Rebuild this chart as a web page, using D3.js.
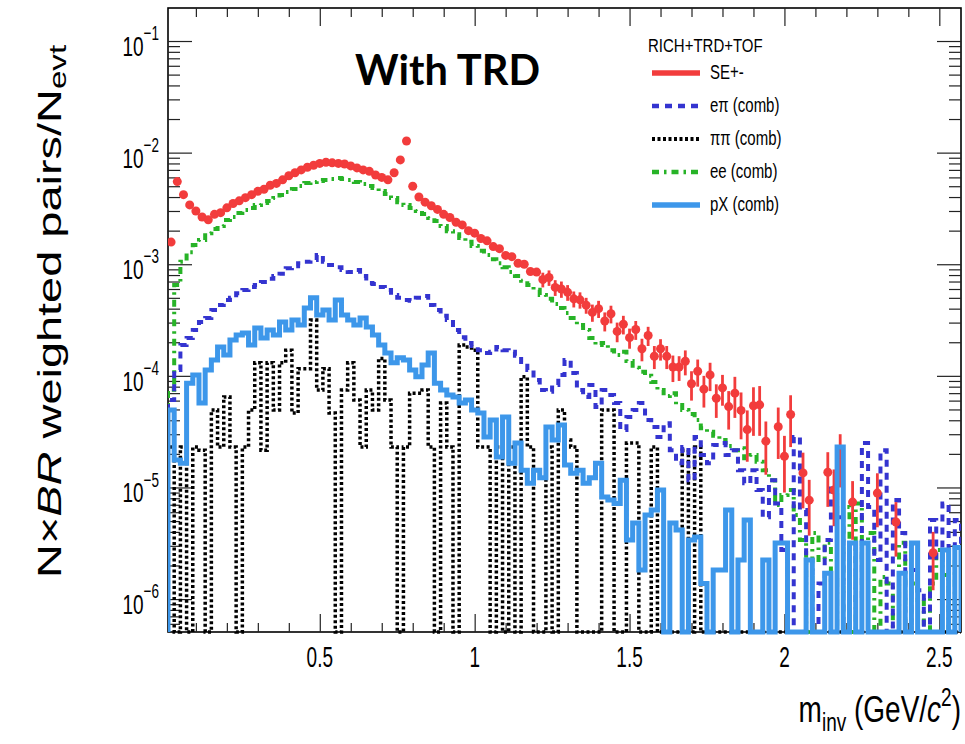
<!DOCTYPE html>
<html>
<head>
<meta charset="utf-8">
<script src="https://cdnjs.cloudflare.com/ajax/libs/d3/7.8.5/d3.min.js"></script>
<style>
  body { margin: 0; background: #fff; }
  svg { display: block; }
</style>
</head>
<body>
<div id="chart"></div>
<script>
// binning of all histograms (GeV/c^2)
var binLow = 0.01,
  binWidth = 0.02;

// SE+- (markers with errors)
var seValues = [
  1.58e-3, 5.5e-3, 4.2e-3, 3.4e-3, 3.0e-3, 2.65e-3, 2.5e-3, 2.8e-3, 2.9e-3, 3.2e-3,
  3.5e-3, 3.7e-3, 3.95e-3, 4.2e-3, 4.5e-3, 4.7e-3, 5.1e-3, 5.3e-3, 5.7e-3, 6.2e-3,
  6.6e-3, 7.0e-3, 7.4e-3, 7.7e-3, 8.0e-3, 8.2e-3, 8.1e-3, 8.0e-3, 7.9e-3, 7.6e-3,
  7.3e-3, 7.0e-3, 6.8e-3, 6.3e-3, 6.0e-3, 5.7e-3, 6.6e-3, 8.6e-3, 1.27e-2, 5.0e-3,
  4.0e-3, 3.6e-3, 3.34e-3, 3.1e-3, 2.8e-3, 2.62e-3, 2.38e-3, 2.25e-3, 2.0e-3, 1.9e-3,
  1.7e-3, 1.62e-3, 1.44e-3, 1.38e-3, 1.2e-3, 1.17e-3, 1.02e-3, 1.0e-3, 8.6e-4, 8.5e-4,
  7.3e-4, 7.6e-4, 6.2e-4, 6.0e-4, 5.6e-4, 4.9e-4, 4.8e-4, 4.3e-4, 3.7e-4, 4.0e-4,
  3.1e-4, 3.6e-4, 2.5e-4, 2.9e-4, 2.2e-4, 2.6e-4, 1.75e-4, 2.3e-4, 1.5e-4, 1.75e-4,
  1.5e-4, 1.2e-4, 1.2e-4, 1.35e-4, 8.5e-5, 1.1e-4, 7.6e-5, 1.02e-4, 6.3e-5, 7.8e-5,
  5.3e-5, 7.0e-5, 4.9e-5, 3.3e-5, 5.4e-5, 5.5e-5, 2.6e-5, 0, 3.5e-5, 1.9e-5,
  4.5e-5, 0, 1.35e-5, 7.7e-6, 0, 0, 1.37e-5, 9.5e-6, 2.0e-5, 0,
  7.4e-6, 0, 0, 0, 8.9e-6, 0, 0, 4.9e-6, 0, 0,
  0, 0, 0, 2.6e-6, 0, 0, 0, 0
];
var seErrors = [
  0, 0, 0, 0, 0, 0, 0, 0, 0, 0,
  0, 0, 0, 0, 0, 0, 0, 0, 0, 0,
  0, 0, 0, 0, 0, 0, 0, 0, 0, 0,
  0, 0, 0, 0, 0, 0, 0, 0, 0, 0,
  0, 0, 0, 0, 0, 0, 0, 0, 0, 0,
  0, 0, 0, 0, 0, 0, 0, 0, 0, 0,
  1.1e-4, 1.2e-4, 1.0e-4, 1.0e-4, 9e-5, 8e-5, 8e-5, 7e-5, 6.5e-5, 7e-5,
  6e-5, 6.5e-5, 5e-5, 5.5e-5, 4.5e-5, 5e-5, 4e-5, 4.5e-5, 3.5e-5, 3.8e-5,
  3.5e-5, 3.2e-5, 3e-5, 3.4e-5, 2.5e-5, 3e-5, 2.4e-5, 2.9e-5, 2.1e-5, 2.4e-5,
  2e-5, 2.8e-5, 2.2e-5, 1.6e-5, 2.5e-5, 2.6e-5, 1.3e-5, 0, 1.7e-5, 1e-5,
  2.2e-5, 0, 7e-6, 4e-6, 0, 0, 7e-6, 5e-6, 1e-5, 0,
  4e-6, 0, 0, 0, 4.5e-6, 0, 0, 2.5e-6, 0, 0,
  0, 0, 0, 1.4e-6, 0, 0, 0, 0
];

// e pi (comb)
var epValues = [
  6.07e-5, 1.13e-4, 1.89e-4, 2.18e-4, 2.57e-4, 3.03e-4, 3.3e-4, 3.89e-4, 4.31e-4, 4.78e-4,
  5.0e-4, 5.5e-4, 5.87e-4, 6.25e-4, 6.51e-4, 6.95e-4, 7.4e-4, 7.85e-4, 8.2e-4, 9.2e-4,
  9.6e-4, 1.02e-3, 1.05e-3, 1.09e-3, 1.21e-3, 1.05e-3, 9.84e-4, 9.4e-4, 8.87e-4, 8.5e-4,
  8.87e-4, 7.85e-4, 6.8e-4, 6.65e-4, 6.25e-4, 5.87e-4, 5.3e-4, 5.0e-4, 4.78e-4, 4.7e-4,
  5.0e-4, 5.2e-4, 4.31e-4, 3.89e-4, 3.45e-4, 3.16e-4, 2.57e-4, 2.22e-4, 1.97e-4, 1.85e-4,
  1.7e-4, 1.6e-4, 1.64e-4, 1.81e-4, 1.7e-4, 1.64e-4, 1.51e-4, 1.33e-4, 1.13e-4, 9.17e-5,
  7.46e-5, 7.2e-5, 8.28e-5, 1.02e-4, 1.39e-4, 1.06e-4, 7.46e-5, 6.47e-5, 8.28e-5, 5.25e-5,
  7.46e-5, 6.73e-5, 5.7e-5, 3.27e-5, 4.28e-5, 4.94e-5, 5.7e-5, 4.02e-5, 3.48e-5, 2.83e-5,
  3.77e-5, 2.16e-5, 1.65e-5, 2.3e-5, 1.16e-5, 2.83e-5, 1.95e-5, 1.65e-5, 2.4e-5, 2.5e-5,
  1.95e-5, 2.16e-5, 1.43e-5, 1.09e-5, 1.43e-5, 9.48e-6, 5.4e-6, 1.16e-5, 7.2e-6, 2.75e-6,
  0, 2.83e-5, 6.27e-6, 2.24e-6, 0, 1.38e-6, 3.38e-6, 1.09e-5, 5.4e-6, 0,
  3.18e-6, 9.8e-7, 2.5e-5, 6.7e-6, 2.24e-6, 2.16e-5, 0, 7.71e-6, 3.9e-6, 0,
  1.82e-6, 1.2e-6, 0, 5.1e-6, 2.24e-6, 7.2e-6, 2.75e-6, 5.1e-6
];

// pi pi (comb)
var ppValues = [
  2.3e-5, 0, 2.3e-5, 0, 2.3e-5, 2.16e-5, 0, 4.94e-5, 2.3e-5, 6.47e-5,
  2.3e-5, 0, 2.3e-5, 4.94e-5, 1.31e-4, 2.16e-5, 1.31e-4, 4.94e-5, 1.31e-4, 1.7e-4,
  4.64e-5, 1.16e-4, 1.16e-4, 3.16e-4, 7.46e-5, 1.16e-4, 4.64e-5, 0, 7.46e-5, 1.31e-4,
  6.07e-5, 2.3e-5, 7.46e-5, 4.94e-5, 1.43e-4, 6.07e-5, 2.3e-5, 0, 2.3e-5, 7.0e-5,
  7.0e-5, 7.46e-5, 2.3e-5, 0, 5.7e-5, 2.3e-5, 0, 1.89e-4, 1.81e-4, 1.7e-4,
  2.3e-5, 2.3e-5, 0, 2.3e-5, 0, 2.3e-5, 0, 9.8e-5, 2.3e-5, 0,
  0, 2.3e-5, 0, 4.94e-5, 2.66e-5, 2.3e-5, 0, 0, 0, 0,
  4.94e-5, 4.94e-5, 0, 0, 2.5e-5, 2.5e-5, 0, 0, 2.3e-5, 0,
  0, 0, 0, 2.16e-5, 0, 2.3e-5, 0, 0, 0, 0,
  0, 0, 0, 0, 0, 0, 0, 0, 0, 0,
  0, 0, 0, 0, 0, 0, 0, 0, 0, 0,
  0, 0, 0, 0, 0, 0, 0, 0, 0, 0,
  0, 0, 0, 0, 0, 0, 0, 0
];

// ee (comb)
var eeValues = [
  7.5e-5, 6.5e-4, 1.05e-3, 1.28e-3, 1.49e-3, 1.65e-3, 1.9e-3, 2.07e-3, 2.2e-3, 2.49e-3,
  2.65e-3, 2.88e-3, 3.06e-3, 3.19e-3, 3.39e-3, 3.53e-3, 3.68e-3, 3.92e-3, 4.17e-3, 4.44e-3,
  4.72e-3, 5.02e-3, 5.35e-3, 5.46e-3, 5.58e-3, 5.69e-3, 5.8e-3, 5.92e-3, 5.8e-3, 5.69e-3,
  5.46e-3, 5.24e-3, 5.02e-3, 4.82e-3, 4.53e-3, 4.25e-3, 3.92e-3, 3.6e-3, 3.39e-3, 3.19e-3,
  3.0e-3, 2.82e-3, 2.6e-3, 2.44e-3, 2.2e-3, 1.98e-3, 1.86e-3, 1.72e-3, 1.59e-3, 1.46e-3,
  1.32e-3, 1.21e-3, 1.11e-3, 1.02e-3, 9.4e-4, 8.5e-4, 7.85e-4, 7.1e-4, 6.5e-4, 5.9e-4,
  5.3e-4, 4.9e-4, 4.4e-4, 4.05e-4, 3.65e-4, 3.3e-4, 2.85e-4, 2.57e-4, 2.18e-4, 1.89e-4,
  1.97e-4, 1.7e-4, 1.54e-4, 1.64e-4, 1.36e-4, 1.18e-4, 1.09e-4, 1.0e-4, 8.8e-5, 7.46e-5,
  6.6e-5, 7.0e-5, 5.48e-5, 4.94e-5, 4.55e-5, 4.02e-5, 3.4e-5, 3.15e-5, 2.9e-5, 2.66e-5,
  2.35e-5, 2.16e-5, 2.25e-5, 1.83e-5, 1.95e-5, 1.7e-5, 1.43e-5, 1.16e-5, 6.95e-6, 8.55e-6,
  9.5e-6, 5.66e-6, 3.38e-6, 0, 3.9e-6, 2.24e-6, 3.2e-6, 1.48e-6, 0, 6.7e-6,
  0, 7.2e-6, 2.24e-6, 3.9e-6, 0, 1.58e-6, 1.38e-6, 0, 3.2e-6, 0,
  1.38e-6, 9.8e-7, 0, 1.38e-6, 2.75e-6, 1.64e-6, 0, 2.24e-6
];

// pX (comb)
var pxValues = [
  4.94e-5, 1.76e-5, 1.65e-5, 8.6e-5, 1.02e-4, 5.7e-5, 1.13e-4, 1.39e-4, 1.81e-4, 1.54e-4,
  2.09e-4, 2.32e-4, 2.42e-4, 1.89e-4, 2.68e-4, 2.18e-4, 2.57e-4, 2.32e-4, 3.03e-4, 2.57e-4,
  3.16e-4, 2.85e-4, 4.05e-4, 5.0e-4, 3.51e-4, 3.89e-4, 3.16e-4, 4.78e-4, 3.51e-4, 3.16e-4,
  2.85e-4, 3.3e-4, 2.74e-4, 2.32e-4, 1.89e-4, 1.6e-4, 1.31e-4, 1.45e-4, 1.39e-4, 1.13e-4,
  9.8e-5, 1.25e-4, 1.6e-4, 8.6e-5, 7.46e-5, 6.73e-5, 6.47e-5, 5.7e-5, 6.07e-5, 4.94e-5,
  4.64e-5, 2.83e-5, 4.02e-5, 1.87e-5, 4.28e-5, 1.65e-5, 2.5e-5, 1.43e-5, 1.09e-5, 1.43e-5,
  1.22e-5, 3.48e-5, 2.66e-5, 3.62e-5, 1.59e-5, 1.34e-5, 1.43e-5, 1.09e-5, 1.22e-5, 1.65e-5,
  8.2e-6, 7.71e-6, 7.2e-6, 1.16e-5, 3.38e-6, 4.8e-6, 1.82e-6, 5.66e-6, 6.27e-6, 9.48e-6,
  0, 4.8e-6, 4.15e-6, 0, 3.38e-6, 3.6e-6, 1.38e-6, 0, 1.82e-6, 1.82e-6,
  6.27e-6, 0, 2.24e-6, 5.1e-6, 0, 0, 2.24e-6, 0, 3.18e-6, 3.18e-6,
  0, 0, 0, 2.24e-6, 0, 0, 1.7e-6, 0, 2.3e-5, 0,
  3.18e-6, 0, 3.18e-6, 0, 0, 0, 0, 0, 1.7e-6, 0,
  3.18e-6, 0, 0, 0, 0, 2.75e-6, 0, 2.9e-6
];

var xTickLabels = [0.5, 1, 1.5, 2, 2.5];
var yDecades = [-1, -2, -3, -4, -5, -6];

var legendTitle = "RICH+TRD+TOF";
var legendLabels = ["SE+-", "e\u03c0 (comb)", "\u03c0\u03c0 (comb)", "ee (comb)", "pX (comb)"];

var width = 965,
  height = 744,
  padL = 168,
  padR = 961,
  padT = 8,
  padB = 632,
  font = "'Liberation Sans', Arial, Helvetica, sans-serif";

var x = d3.scaleLinear().domain([0.01, 2.57]).range([padL, padR]);
var y = d3.scaleLog().domain([5.07e-7, 0.1976]).range([padB, padT]);

var styles = {
  se: { color: "#f23c3c", width: 5, dash: null },
  ep: { color: "#3434d0", width: 4, dash: "7,6" },
  pp: { color: "#000000", width: 3.5, dash: "3,2.5" },
  ee: { color: "#27b327", width: 4, dash: "7,5,2.5,5" },
  px: { color: "#3d97ea", width: 5, dash: null }
};

var svg = d3.select("#chart").append("svg")
  .attr("width", width)
  .attr("height", height);

svg.append("defs").append("clipPath").attr("id", "plot")
  .append("rect")
  .attr("x", padL).attr("y", padT)
  .attr("width", padR - padL).attr("height", padB - padT + 3);

// frame
svg.append("rect")
  .attr("x", padL).attr("y", padT)
  .attr("width", padR - padL).attr("height", padB - padT)
  .attr("fill", "none").attr("stroke", "#000").attr("stroke-width", 1.6);

// ticks
var xMajor = xTickLabels,
  xMinor = d3.range(1, 26).map(function(k) { return k / 10; })
    .filter(function(v) { return Math.abs(v * 2 - Math.round(v * 2)) > 1e-6; }),
  yMajor = yDecades.map(function(e) { return Math.pow(10, e); }),
  yMinor = [];
d3.range(-7, 0).forEach(function(e) {
  d3.range(2, 10).forEach(function(m) {
    var v = m * Math.pow(10, e);
    if (v > y.domain()[0] && v < y.domain()[1]) yMinor.push(v);
  });
});

function tickAxis(axis, tx, ty) {
  var g = svg.append("g").attr("transform", "translate(" + tx + "," + ty + ")").call(axis);
  g.select(".domain").remove();
  g.selectAll("line").attr("stroke", "#222").attr("stroke-width", 1.2);
  return g;
}
tickAxis(d3.axisBottom(x).tickValues(xMajor).tickSize(-18).tickFormat(""), 0, padB);
tickAxis(d3.axisBottom(x).tickValues(xMinor).tickSize(-9).tickFormat(""), 0, padB);
tickAxis(d3.axisTop(x).tickValues(xMajor).tickSize(-18).tickFormat(""), 0, padT);
tickAxis(d3.axisTop(x).tickValues(xMinor).tickSize(-9).tickFormat(""), 0, padT);
tickAxis(d3.axisLeft(y).tickValues(yMajor).tickSize(-24).tickFormat(""), padL, 0);
tickAxis(d3.axisLeft(y).tickValues(yMinor).tickSize(-12).tickFormat(""), padL, 0);
tickAxis(d3.axisRight(y).tickValues(yMajor).tickSize(-24).tickFormat(""), padR, 0);
tickAxis(d3.axisRight(y).tickValues(yMinor).tickSize(-12).tickFormat(""), padR, 0);

// tick labels (the picture is stretched vertically)
svg.selectAll(".xlab").data(xTickLabels).enter().append("text")
  .attr("transform", function(d) { return "translate(" + x(d) + ",667) scale(1,1.55)"; })
  .attr("text-anchor", "middle")
  .style("font-family", font).style("font-size", "19px")
  .text(function(d) { return d; });

var ylab = svg.selectAll(".ylab").data(yDecades).enter().append("text")
  .attr("transform", function(d) { return "translate(159," + (y(Math.pow(10, d)) + 15) + ") scale(1,1.5)"; })
  .attr("text-anchor", "end")
  .style("font-family", font).style("font-size", "19px");
ylab.append("tspan").text("10");
ylab.append("tspan").attr("dy", -10.5).style("font-size", "13.5px")
  .text(function(d) { return "\u2212" + Math.abs(d); });

// histograms
function stepPath(values) {
  var pts = [[binLow, 0]];
  values.forEach(function(v, i) {
    var lo = binLow + i * binWidth;
    pts.push([lo, v], [lo + binWidth, v]);
  });
  pts.push([binLow + values.length * binWidth, 0]);
  return d3.line()
    .x(function(d) { return x(d[0]); })
    .y(function(d) { return d[1] > 0 ? y(d[1]) : padB; })(pts);
}

var plot = svg.append("g").attr("clip-path", "url(#plot)");

function drawHist(values, st) {
  plot.append("path")
    .attr("d", stepPath(values))
    .attr("fill", "none")
    .attr("stroke", st.color)
    .attr("stroke-width", st.width)
    .attr("stroke-dasharray", st.dash);
}
drawHist(ppValues, styles.pp);
drawHist(eeValues, styles.ee);
drawHist(epValues, styles.ep);

// SE+- markers with vertical errors
var sePoints = seValues.map(function(v, i) {
  return { m: binLow + (i + 0.5) * binWidth, v: v, e: seErrors[i] };
}).filter(function(d) { return d.v > 0; });

plot.selectAll(".err").data(sePoints.filter(function(d) { return d.e > 0; })).enter()
  .append("line")
  .attr("x1", function(d) { return x(d.m); })
  .attr("x2", function(d) { return x(d.m); })
  .attr("y1", function(d) { return y(d.v + d.e); })
  .attr("y2", function(d) { return d.v - d.e > y.domain()[0] ? y(d.v - d.e) : padB; })
  .attr("stroke", styles.se.color)
  .attr("stroke-width", 2.8);

plot.selectAll(".pt").data(sePoints).enter()
  .append("circle")
  .attr("cx", function(d) { return x(d.m); })
  .attr("cy", function(d) { return y(d.v); })
  .attr("r", 4.5)
  .attr("fill", styles.se.color);

drawHist(pxValues, styles.px);

// axis titles
var yt = svg.append("text")
  .attr("transform", "translate(61,578) rotate(-90) scale(1.38,1)")
  .style("font-family", font).style("font-size", "34px");
yt.append("tspan").text("N\u00d7");
yt.append("tspan").style("font-style", "italic").text("BR");
yt.append("tspan").text(" weighted pairs/N");
yt.append("tspan").attr("dy", 5).style("font-size", "24px").text("evt");

var xt = svg.append("text")
  .attr("transform", "translate(961,722) scale(1,1.35)")
  .attr("text-anchor", "end")
  .style("font-family", font).style("font-size", "28px");
xt.append("tspan").text("m");
xt.append("tspan").attr("dy", 7).style("font-size", "19px").text("inv");
xt.append("tspan").attr("dy", -7).text(" (GeV/");
xt.append("tspan").style("font-style", "italic").text("c");
xt.append("tspan").attr("dy", -12).style("font-size", "19px").text("2");
xt.append("tspan").attr("dy", 12).text(")");

// title
svg.append("text")
  .attr("x", 355).attr("y", 85)
  .attr("textLength", 185).attr("lengthAdjust", "spacingAndGlyphs")
  .style("font-family", "Lato, 'Open Sans', sans-serif")
  .style("font-weight", "bold").style("font-size", "42px")
  .text("With TRD");

// legend
svg.append("text")
  .attr("transform", "translate(648,52) scale(1,1.25)")
  .style("font-family", font).style("font-size", "15px")
  .text(legendTitle);

var legendStyles = [styles.se, styles.ep, styles.pp, styles.ee, styles.px];
var leg = svg.selectAll(".leg").data(legendLabels).enter().append("g")
  .attr("transform", function(d, i) { return "translate(0," + (73 + i * 33) + ")"; });
leg.append("line")
  .attr("x1", 652).attr("x2", 700)
  .attr("stroke", function(d, i) { return legendStyles[i].color; })
  .attr("stroke-width", function(d, i) { return legendStyles[i].width + 0.5; })
  .attr("stroke-dasharray", function(d, i) { return legendStyles[i].dash; });
leg.append("text")
  .attr("transform", "translate(710,6) scale(1,1.3)")
  .style("font-family", font).style("font-size", "15px")
  .text(function(d) { return d; });
</script>
</body>
</html>
